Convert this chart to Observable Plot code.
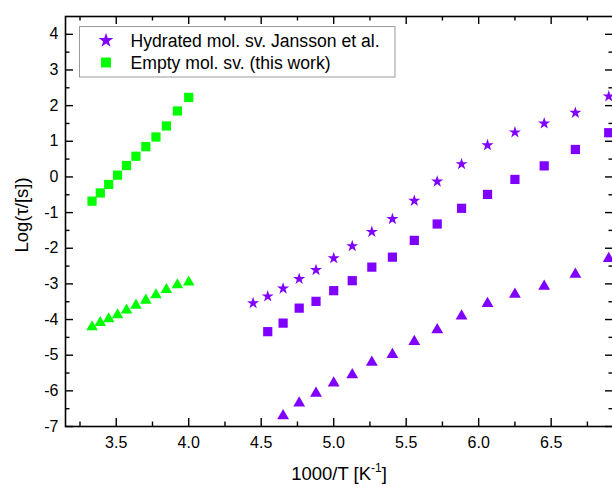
<!DOCTYPE html>
<html><head><meta charset="utf-8">
<script src="https://cdn.jsdelivr.net/npm/d3@7"></script>
<script src="https://cdn.jsdelivr.net/npm/@observablehq/plot@0.6"></script>
<style>body{margin:0;background:#fff;} svg{display:block;}</style>
</head><body><div id="chart"></div>
<script>
// ---- data ----
const emptyX = [3.333,3.390,3.448,3.509,3.571,3.636,3.704,3.774,3.846,3.922,4.000];
const emptySquareY = [-0.68,-0.45,-0.21,0.05,0.32,0.58,0.85,1.12,1.43,1.85,2.23];
const emptyTriangleY = [-4.21,-4.09,-3.98,-3.87,-3.74,-3.60,-3.46,-3.31,-3.16,-3.03,-2.95];

const hydStarX = [4.444,4.545,4.651,4.762,4.878,5.000,5.128,5.263,5.405,5.556,5.714,5.882,6.061,6.250,6.452,6.667,6.897];
const hydStarY = [-3.54,-3.35,-3.13,-2.86,-2.61,-2.28,-1.94,-1.54,-1.18,-0.67,-0.13,0.36,0.89,1.25,1.50,1.80,2.26];

const hydSquareX = [4.545,4.651,4.762,4.878,5.000,5.128,5.263,5.405,5.556,5.714,5.882,6.061,6.250,6.452,6.667,6.897];
const hydSquareY = [-4.34,-4.10,-3.68,-3.49,-3.19,-2.91,-2.53,-2.25,-1.78,-1.32,-0.88,-0.49,-0.07,0.31,0.77,1.24];

const hydTriangleX = [4.651,4.762,4.878,5.000,5.128,5.263,5.405,5.556,5.714,5.882,6.061,6.250,6.452,6.667,6.897];
const hydTriangleY = [-6.70,-6.34,-6.07,-5.78,-5.55,-5.20,-4.98,-4.62,-4.29,-3.90,-3.55,-3.29,-3.07,-2.73,-2.29];

const xMajor = [3.5,4.0,4.5,5.0,5.5,6.0,6.5];
const xMinor = [3.25,3.75,4.25,4.75,5.25,5.75,6.25,6.75];
const yMajor = [-7,-6,-5,-4,-3,-2,-1,0,1,2,3,4];
const yMinor = [-6.5,-5.5,-4.5,-3.5,-2.5,-1.5,-0.5,0.5,1.5,2.5,3.5];

const legendLabels = ["Hydrated mol. sv. Jansson et al.", "Empty mol. sv. (this work)"];
const xTitle = "1000/T [K";
const xTitleSup = "-1";
const xTitleEnd = "]";
const yTitle = "Log(\u03C4/[s])";

const PURPLE = "#8000ff";
const GREEN = "#00ff00";

// ---- layout ----
const W = 612, H = 487;
const mL = 65, mT = 16, mB = 61, mR = -1;
const plotH = H - mT - mB;
const plotW = W - mL - mR;
const majorLen = 8, minorLen = 4.5;
const FONT = "'Liberation Sans', Arial, sans-serif";

const pts = (xs, ys) => xs.map((x, i) => ({x, y: ys[i]}));

const plot = Plot.plot({
  width: W, height: H,
  marginLeft: mL, marginTop: mT, marginBottom: mB, marginRight: mR,
  style: {fontFamily: FONT, fontSize: "16px", color: "#000", background: "#fff", overflow: "visible"},
  x: {domain: [3.15, 6.93], label: null},
  y: {domain: [-7, 4.5], label: null},
  marks: [
    Plot.axisX(xMajor, {tickSize: 0, tickPadding: 10, tickFormat: d => d.toFixed(1), fontSize: 16}),
    Plot.axisY(yMajor, {tickSize: 0, tickPadding: 7, tickFormat: d => String(d), fontSize: 16}),
    // inward ticks on all four sides
    Plot.tickX(xMajor, {x: d => d, insetTop: plotH - majorLen, stroke: "#000", strokeWidth: 1.4}),
    Plot.tickX(xMajor, {x: d => d, insetBottom: plotH - majorLen, stroke: "#000", strokeWidth: 1.4}),
    Plot.tickX(xMinor, {x: d => d, insetTop: plotH - minorLen, stroke: "#000", strokeWidth: 1.4}),
    Plot.tickX(xMinor, {x: d => d, insetBottom: plotH - minorLen, stroke: "#000", strokeWidth: 1.4}),
    Plot.tickY(yMajor, {y: d => d, insetRight: plotW - majorLen, stroke: "#000", strokeWidth: 1.4}),
    Plot.tickY(yMajor, {y: d => d, insetLeft: plotW - majorLen, stroke: "#000", strokeWidth: 1.4}),
    Plot.tickY(yMinor, {y: d => d, insetRight: plotW - minorLen, stroke: "#000", strokeWidth: 1.4}),
    Plot.tickY(yMinor, {y: d => d, insetLeft: plotW - minorLen, stroke: "#000", strokeWidth: 1.4}),
    Plot.frame({stroke: "#000", strokeWidth: 1.6}),
    // data
    Plot.dot(pts(emptyX, emptySquareY), {x: "x", y: "y", symbol: "square", r: 5.2, fill: GREEN, stroke: "none"}),
    Plot.dot(pts(emptyX, emptyTriangleY), {x: "x", y: "y", symbol: "triangle", r: 4.3, fill: GREEN, stroke: "none"}),
    Plot.dot(pts(hydStarX, hydStarY), {x: "x", y: "y", symbol: "star", r: 3.8, fill: PURPLE, stroke: "none"}),
    Plot.dot(pts(hydSquareX, hydSquareY), {x: "x", y: "y", symbol: "square", r: 5.2, fill: PURPLE, stroke: "none"}),
    Plot.dot(pts(hydTriangleX, hydTriangleY), {x: "x", y: "y", symbol: "triangle", r: 4.4, fill: PURPLE, stroke: "none"})
  ]
});

document.getElementById("chart").appendChild(plot);

// ---- legend and axis titles ----
const svg = d3.select(plot);
const lg = svg.append("g").attr("text-anchor", "start");
lg.append("rect")
  .attr("x", 79.5).attr("y", 26.5).attr("width", 315.5).attr("height", 50.5)
  .attr("fill", "#fff").attr("stroke", "#9a9a9a").attr("stroke-width", 1);
const legendSymbols = [
  {sym: d3.symbolStar, size: Math.PI * 4.6 * 4.6, color: PURPLE},
  {sym: d3.symbolSquare, size: Math.PI * 5.6 * 5.6, color: GREEN}
];
const legendRowsY = [40.5, 62.5];
legendLabels.forEach((t, i) => {
  lg.append("path")
    .attr("d", d3.symbol(legendSymbols[i].sym, legendSymbols[i].size)())
    .attr("transform", `translate(106,${legendRowsY[i]})`)
    .attr("fill", legendSymbols[i].color);
  lg.append("text")
    .attr("x", 130.5).attr("y", legendRowsY[i] + 6)
    .attr("text-anchor", "start")
    .attr("font-family", FONT).attr("font-size", 17.6).attr("fill", "#000")
    .text(t);
});

const xt = svg.append("text")
  .attr("x", mL + plotW / 2).attr("y", 480)
  .attr("text-anchor", "middle")
  .attr("font-family", FONT).attr("font-size", 18.5).attr("fill", "#000");
xt.append("tspan").text(xTitle);
xt.append("tspan").attr("font-size", 12).attr("dy", -8).text(xTitleSup);
xt.append("tspan").attr("dy", 8).text(xTitleEnd);

svg.append("text")
  .attr("transform", `translate(28,${mT + plotH / 2 - 6}) rotate(-90)`)
  .attr("text-anchor", "middle")
  .attr("font-family", FONT).attr("font-size", 18.5).attr("fill", "#000")
  .text(yTitle);
</script>
</body></html>
